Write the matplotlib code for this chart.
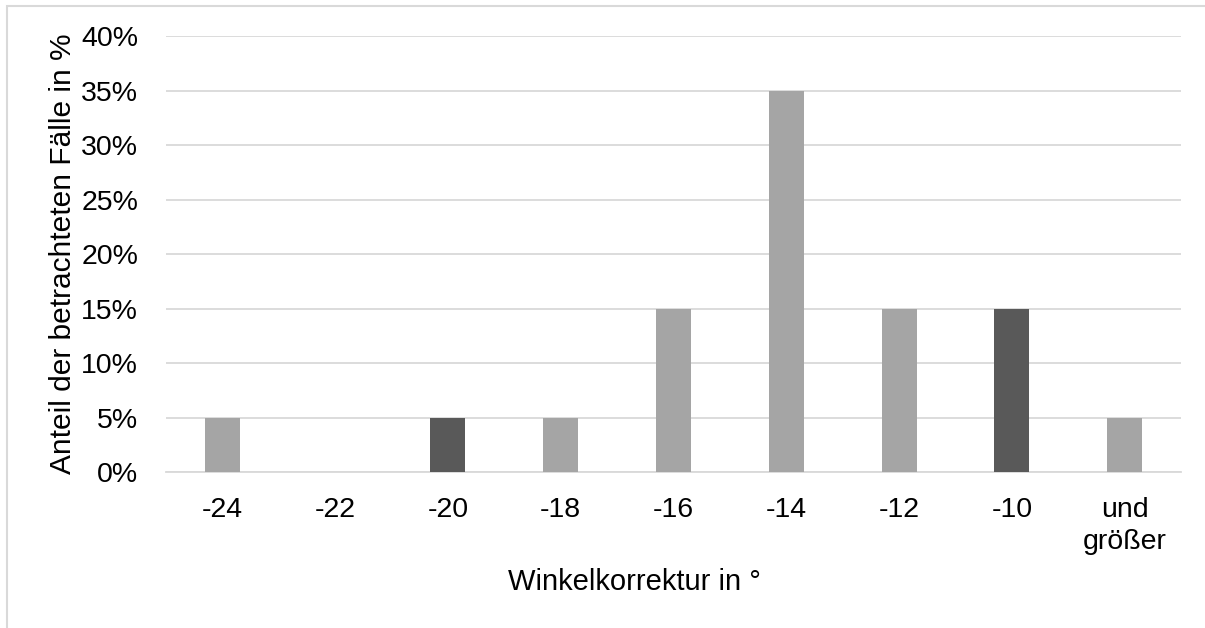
import matplotlib.pyplot as plt
from matplotlib.patches import Rectangle
from matplotlib.ticker import PercentFormatter

plt.rcParams['font.family'] = ['Liberation Sans', 'DejaVu Sans']

categories = ['-24', '-22', '-20', '-18', '-16', '-14', '-12', '-10', 'und\ngrößer']
values = [5, 0, 5, 5, 15, 35, 15, 15, 5]
bar_colors = ['#A5A5A5', '#A5A5A5', '#595959', '#A5A5A5', '#A5A5A5',
              '#A5A5A5', '#A5A5A5', '#595959', '#A5A5A5']

W, H = 1205, 628
fig = plt.figure(figsize=(W / 100, H / 100), dpi=100)
ax = fig.add_axes([166 / W, 1 - 472 / H, (1181 - 166) / W, (472 - 36) / H])

x = range(len(categories))
ax.bar(x, values, width=0.31, color=bar_colors, zorder=3)

ax.set_xlim(-0.5, len(categories) - 0.5)
ax.set_ylim(0, 40)
ax.set_yticks(range(0, 41, 5))
ax.yaxis.set_major_formatter(PercentFormatter(decimals=0))
ax.set_xticks(list(x))
ax.set_xticklabels(categories, linespacing=1.3)
ax.tick_params(axis='both', length=0, labelsize=20.5, colors='black')
ax.tick_params(axis='x', pad=18)
ax.tick_params(axis='y', pad=20)

ax.grid(axis='y', color='#D9D9D9', linewidth=1.3, zorder=0)
for s in ['top', 'right', 'left']:
    ax.spines[s].set_visible(False)
ax.spines['bottom'].set_color('#D9D9D9')
ax.spines['bottom'].set_linewidth(1.3)

ax.set_xlabel('Winkelkorrektur in °', fontsize=21)
ax.xaxis.set_label_coords(0.462, -0.22)
ax.set_ylabel('Anteil der betrachteten Fälle in %', fontsize=21.5, labelpad=3)

# outer chart frame (right and bottom edges lie outside the picture)
fig.patches.append(Rectangle((6.5 / W, -0.1), 1.2, 1 - 6.5 / H + 0.1,
                             transform=fig.transFigure, fill=False,
                             edgecolor='#D9D9D9', linewidth=1.5))

fig.savefig('out.png', dpi=100, facecolor='white')
